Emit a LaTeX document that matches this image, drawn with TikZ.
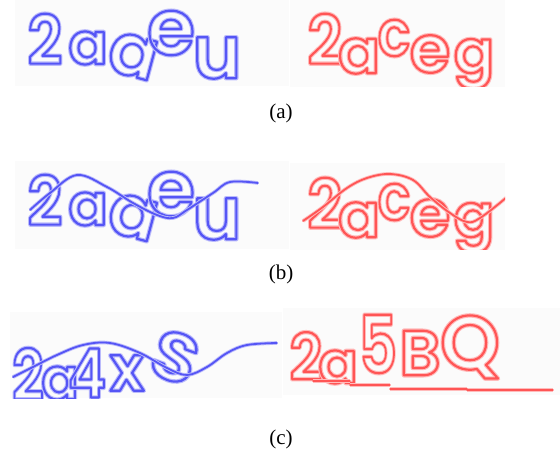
\documentclass[tikz,border=0pt]{standalone}
\usepackage{fontspec}
\setmainfont{Liberation Serif}
\newfontfamily\capfont{Poppins}[UprightFont=* SemiBold]
\usepackage{xcolor}
\usepackage{tikz}

\definecolor{capblue}{RGB}{85,85,245}
\definecolor{capred}{RGB}{255,85,85}

% hollow letters: stroke only (text render mode 1), soft edge + core
\newcommand{\hollow}[2]{%
  \rlap{\color{#1!40}\special{pdf:literal direct 1 Tr 4.4 w 1 J 1 j}#2}%
  {\color{#1}\special{pdf:literal direct 1 Tr 2.2 w 1 J 1 j}#2}%
  \special{pdf:literal direct 0 Tr 0.4 w}}

\tikzset{
  glyph/.style={inner sep=0pt, outer sep=0pt, transform shape},
  paper/.style={fill=black!1.5},
  noise/.style={draw=#1, line width=1.8pt, line cap=round, line join=round,
    preaction={draw=#1!40, line width=3.6pt}},
  sub/.style={font=\fontsize{21}{21}\selectfont, inner sep=0pt},
}

% captcha words, letter by letter: char/x/y/size/rotation/xscale
\newcommand{\wordblue}[1]{%
  \foreach \ch/\px/\py/\fs/\rot/\sx [count=\i] in
    {2/45/39/68/0/.9, a/88/48/58/0/1, a/133/56/72/-15/1, e/171/33/78/0/1, u/217/58/74/0/1}
    \node[glyph, rotate=\rot, xscale=\sx, font=\capfont\fontsize{\fs}{\fs}\selectfont]
      (#1-\i) at (\px,\py) {\hollow{capblue}{\ch}};
}
\newcommand{\wordred}[1]{%
  \foreach \ch/\px/\py/\fs/\rot/\sx [count=\i] in
    {2/325/39/68/0/.9, a/359/56/62/0/1, c/394/38/64/0/.85, e/430/54/66/0/1, g/474/64/60/0/1}
    \node[glyph, rotate=\rot, xscale=\sx, font=\capfont\fontsize{\fs}{\fs}\selectfont]
      (#1-\i) at (\px,\py) {\hollow{capred}{\ch}};
}

\begin{document}
\begin{tikzpicture}[x=1pt, y=-1pt]
  \useasboundingbox (0,0) rectangle (560,449);

  % (a)
  \begin{scope}
    \clip (15,0) rectangle (289,86);
    \fill[paper] (15,0) rectangle (289,86);
    \wordblue{ba}
  \end{scope}
  \begin{scope}
    \clip (290,0) rectangle (505,87);
    \fill[paper] (290,0) rectangle (505,87);
    \wordred{ra}
  \end{scope}
  \node[sub] (cap-a) at (281,113) {(a)};

  % (b) same words, one noise curve
  \begin{scope}
    \clip (15,161) rectangle (289,249);
    \fill[paper] (15,161) rectangle (289,249);
    \begin{scope}[shift={(0,161)}]
      \wordblue{bb}
    \end{scope}
    \draw[noise=capblue] plot[smooth, tension=.6] coordinates {(30,210) (50,193) (77,175) (107,187) (133,203)
      (157,215) (173,218) (187,210) (213,193) (230,182) (258,183)};
  \end{scope}
  \begin{scope}
    \clip (290,163) rectangle (505,250);
    \fill[paper] (290,163) rectangle (505,250);
    \begin{scope}[shift={(0,164)}]
      \wordred{rb}
    \end{scope}
    \draw[noise=capred] plot[smooth, tension=.6] coordinates {(303,221) (323,207) (347,188) (367,178) (390,174)
      (413,180) (430,197) (450,213) (467,222) (480,218) (507,197) (527,178) (540,175)};
  \end{scope}
  \node[sub] (cap-b) at (281,274) {(b)};

  % (c)
  \begin{scope}
    \clip (10,312) rectangle (282,398);
    \fill[paper] (10,312) rectangle (282,398);
    \foreach \ch/\px/\py/\fs/\rot/\sx [count=\i] in
      {2/28/374/70/0/.8, a/60/383/58/0/.95, 4/87/373/68/0/.85, x/127/373/64/0/1, S/175/357/68/-20/1.1}
      \node[glyph, rotate=\rot, xscale=\sx, font=\capfont\fontsize{\fs}{\fs}\selectfont]
        (bc-\i) at (\px,\py) {\hollow{capblue}{\ch}};
    \draw[noise=capblue] plot[smooth, tension=.6] coordinates {(13,377) (33,367) (57,355) (83,345) (110,343)
      (140,353) (167,368) (187,375) (207,367) (227,353) (247,345) (277,343)};
  \end{scope}
  \begin{scope}
    \clip (283,308) rectangle (560,395);
    \fill[paper] (283,308) rectangle (560,395);
    \foreach \ch/\px/\py/\fs/\rot/\sx [count=\i] in
      {2/306/356/64/0/.9, a/338/367/58/0/1, 5/378/344/80/0/.75, B/420/353/64/0/1, Q/470/347/76/0/1}
      \node[glyph, rotate=\rot, xscale=\sx, font=\capfont\fontsize{\fs}{\fs}\selectfont]
        (rc-\i) at (\px,\py) {\hollow{capred}{\ch}};
    \draw[noise=capred, line width=1.4pt, preaction={line width=2.6pt}]
      (313,381) -- (350,381) (350,385) -- (390,385) (390,389) -- (467,389) (467,390) -- (553,390);
  \end{scope}
  \node[sub] (cap-c) at (281,439) {(c)};
\end{tikzpicture}
\end{document}
